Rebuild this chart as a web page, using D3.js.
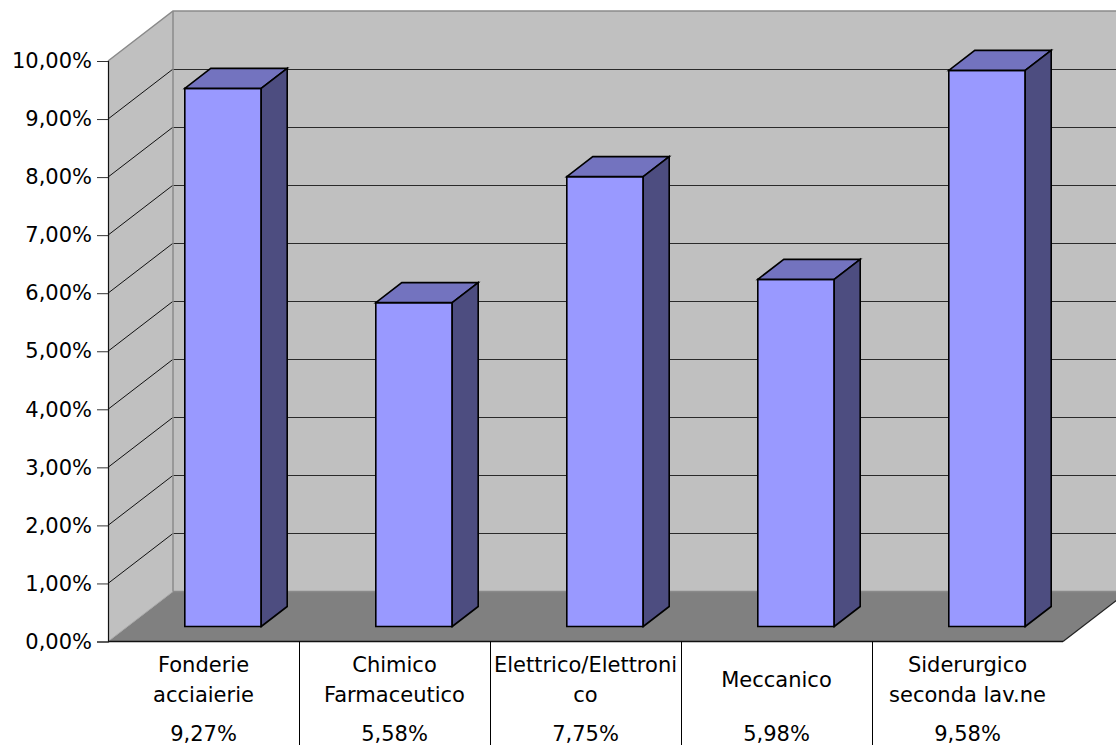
<!DOCTYPE html>
<html>
<head>
<meta charset="utf-8">
<script src="https://cdn.jsdelivr.net/npm/d3@7"></script>
<style>
  html, body { margin: 0; padding: 0; background: #ffffff; }
  svg { display: block; }
  text { font-family: "DejaVu Sans", Verdana, sans-serif; fill: #000; }
</style>
</head>
<body>
<svg id="chart" width="1116" height="745"></svg>
<script>
// Sector shares (fraction of total)
const categories = ["Fonderie acciaierie", "Chimico Farmaceutico", "Elettrico/Elettronico", "Meccanico", "Siderurgico seconda lav.ne"];
const labelLines = [["Fonderie", "acciaierie"], ["Chimico", "Farmaceutico"], ["Elettrico/Elettroni", "co"], ["Meccanico"], ["Siderurgico", "seconda lav.ne"]];
const values = [0.0927, 0.0558, 0.0775, 0.0598, 0.0958];
const tickValues = [0, 0.01, 0.02, 0.03, 0.04, 0.05, 0.06, 0.07, 0.08, 0.09, 0.10];

const itLocale = d3.formatLocale({ decimal: ",", thousands: ".", grouping: [3], currency: ["", " €"] });
const pct = itLocale.format(".2%");

const svg = d3.select("#chart");

// Front plane geometry and oblique depth offset
const left = 108, right = 1063;
const depthX = 65, depthY = -50;
const zBar0 = 0.3, zBar1 = 0.7;

const y = d3.scaleLinear().domain([0, 0.10]).range([641.5, 61]);
const xCat = d3.scaleBand().domain(categories).range([left, right]).padding(0);
const xBar = d3.scaleBand().domain(categories).range([left, right]).paddingInner(0.6).paddingOuter(0.3);

// project a point on the front plane (x, value) back by depth fraction z
const P = (x, v, z) => [x + z * depthX, y(v) + z * depthY];
const poly = pts => "M" + pts.map(p => p.join(",")).join("L") + "Z";

const vMax = 0.10;

// back wall
svg.append("path")
  .attr("d", poly([P(left, 0, 1), P(right, 0, 1), P(right, vMax, 1), P(left, vMax, 1)]))
  .attr("fill", "#c0c0c0").attr("stroke", "none");

// side wall
svg.append("path")
  .attr("d", poly([P(left, 0, 0), P(left, 0, 1), P(left, vMax, 1), P(left, vMax, 0)]))
  .attr("fill", "#c0c0c0").attr("stroke", "none");

// floor
svg.append("path")
  .attr("d", poly([P(left, 0, 0), P(left, 0, 1), P(right, 0, 1), P(right, 0, 0)]))
  .attr("fill", "#808080").attr("stroke", "none");

// gridlines on back wall and side wall
const inner = tickValues.filter(v => v > 0 && v < vMax);
svg.append("g").selectAll("line.back").data(inner).join("line")
  .attr("x1", v => P(left, v, 1)[0]).attr("y1", v => Math.round(P(left, v, 1)[1]) + 0.5)
  .attr("x2", v => P(right, v, 1)[0]).attr("y2", v => Math.round(P(left, v, 1)[1]) + 0.5)
  .attr("stroke", "#2a2a2a").attr("stroke-width", 1);
svg.append("g").selectAll("line.side").data(inner).join("line")
  .attr("x1", v => P(left, v, 0)[0]).attr("y1", v => P(left, v, 0)[1])
  .attr("x2", v => P(left, v, 1)[0]).attr("y2", v => P(left, v, 1)[1])
  .attr("stroke", "#111").attr("stroke-width", 1);

// wall edges
const edges = svg.append("g").attr("fill", "none").attr("stroke", "#8a8a8a").attr("stroke-width", 1.5);
edges.append("path").attr("d", "M" + [P(left, vMax, 0), P(left, vMax, 1), P(right, vMax, 1)].map(p => p.join(",")).join("L"));
edges.append("path").attr("d", "M" + [P(left, vMax, 1), P(left, 0, 1), P(right, 0, 1)].map(p => p.join(",")).join("L"));
svg.append("path")
  .attr("d", "M" + [P(left, 0, 0), P(left, 0, 1)].map(p => p.join(",")).join("L"))
  .attr("stroke", "#aaaaaa").attr("stroke-width", 1).attr("fill", "none");
svg.append("path")
  .attr("d", "M" + [P(right, 0, 0), P(right, 0, 1)].map(p => p.join(",")).join("L"))
  .attr("stroke", "#222").attr("stroke-width", 1.2).attr("fill", "none");

// bars
const bars = svg.append("g").selectAll("g").data(categories).join("g")
  .attr("stroke", "#000").attr("stroke-width", 1.6).attr("stroke-linejoin", "miter");
bars.each(function (c, i) {
  const g = d3.select(this);
  const x0 = xBar(c), x1 = xBar(c) + xBar.bandwidth(), v = values[i];
  g.append("path").attr("fill", "#9999ff")
    .attr("d", poly([P(x0, 0, zBar0), P(x1, 0, zBar0), P(x1, v, zBar0), P(x0, v, zBar0)]));
  g.append("path").attr("fill", "#7373bf")
    .attr("d", poly([P(x0, v, zBar0), P(x1, v, zBar0), P(x1, v, zBar1), P(x0, v, zBar1)]));
  g.append("path").attr("fill", "#4d4d80")
    .attr("d", poly([P(x1, 0, zBar0), P(x1, 0, zBar1), P(x1, v, zBar1), P(x1, v, zBar0)]));
});

// value axis
const yAxis = d3.axisLeft(y).tickValues(tickValues).tickFormat(pct).tickSize(11).tickPadding(5);
const ya = svg.append("g").attr("transform", `translate(${left},0)`).call(yAxis);
ya.select(".domain").attr("stroke", "#111").attr("stroke-width", 1.2);
ya.selectAll(".tick line").attr("stroke", "#333");
ya.selectAll(".tick text").attr("font-size", 21).attr("font-family", '"DejaVu Sans", sans-serif').attr("fill", "#000");

// category axis line and dividers
svg.append("line").attr("x1", left).attr("x2", right).attr("y1", y(0)).attr("y2", y(0))
  .attr("stroke", "#111").attr("stroke-width", 1.5);
svg.append("g").selectAll("line").data(categories.slice(1)).join("line")
  .attr("x1", c => Math.round(xCat(c)) + 0.5).attr("x2", c => Math.round(xCat(c)) + 0.5)
  .attr("y1", y(0)).attr("y2", 745)
  .attr("stroke", "#000").attr("stroke-width", 1);

// category names and values
const labels = svg.append("g").attr("text-anchor", "middle").attr("font-size", 21);
categories.forEach((c, i) => {
  const cx = xCat(c) + xCat.bandwidth() / 2;
  const lines = labelLines[i];
  lines.forEach((t, k) => {
    labels.append("text").attr("x", cx).attr("y", 686.5 + (k - (lines.length - 1) / 2) * 30).text(t);
  });
  labels.append("text").attr("x", cx).attr("y", 740.5).text(pct(values[i]));
});
</script>
</body>
</html>
